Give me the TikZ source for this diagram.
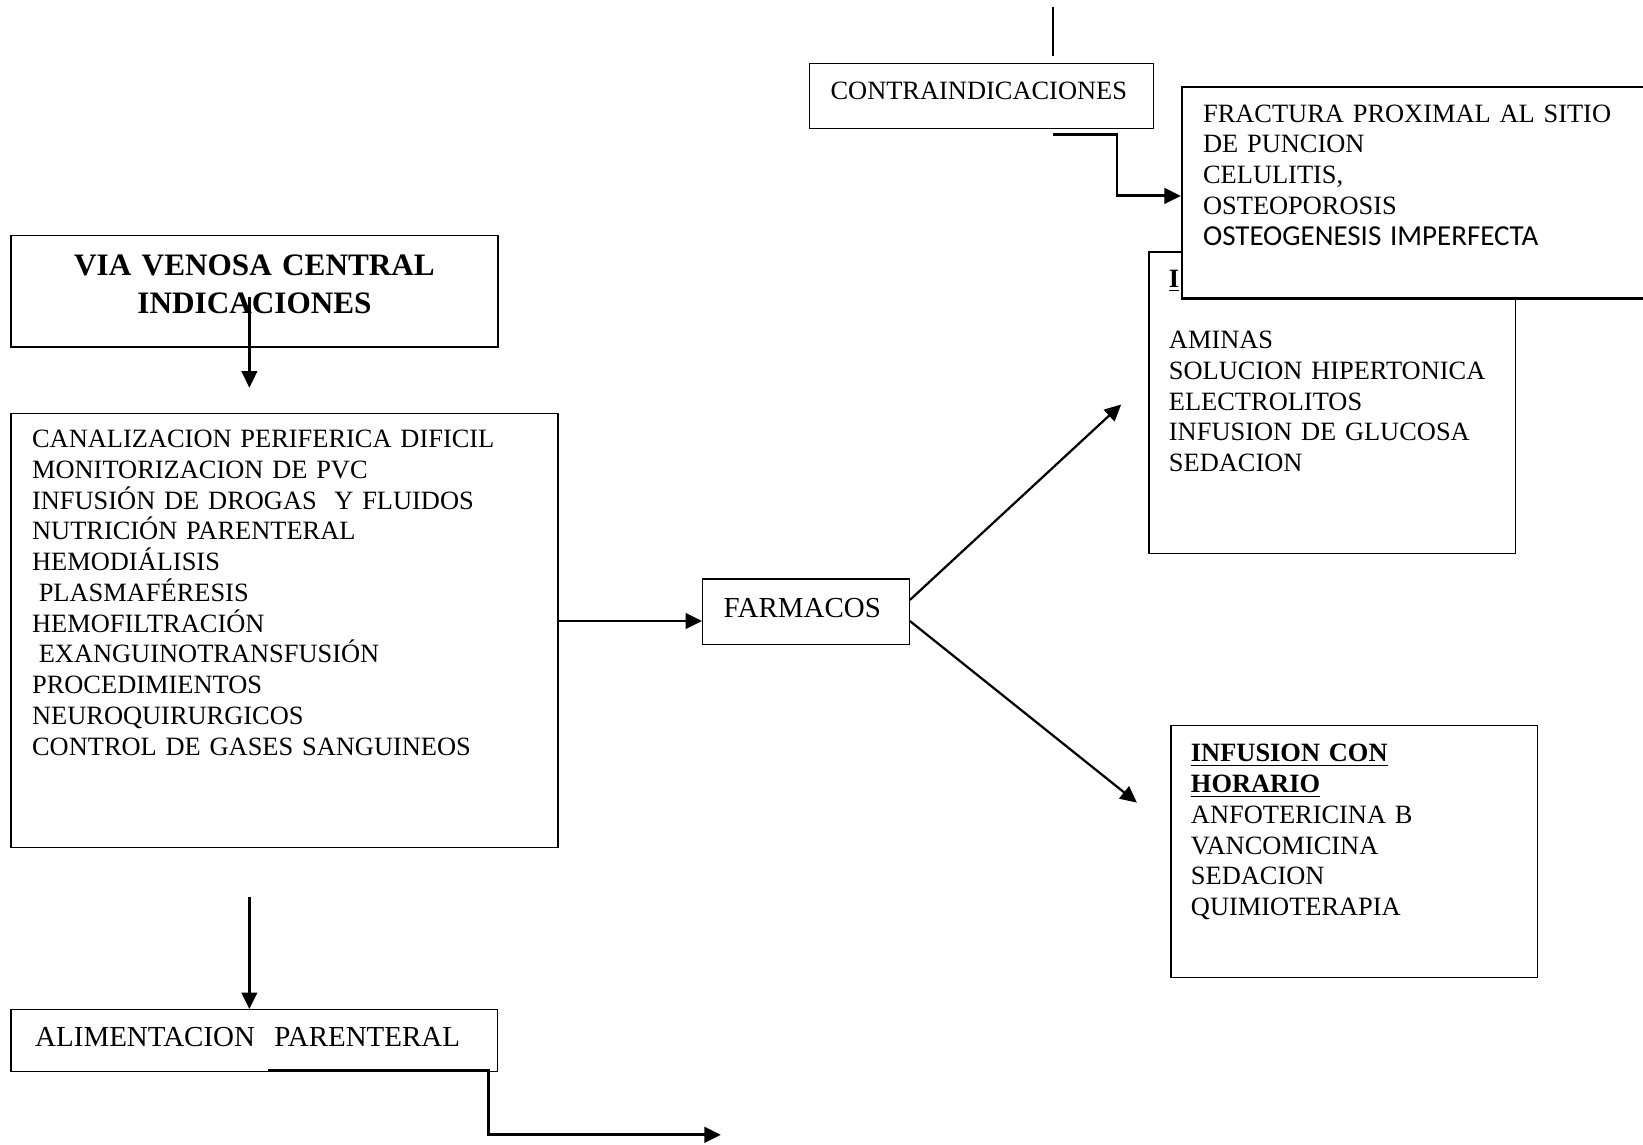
\documentclass[tikz,border=0pt]{standalone}
\usepackage{fontspec}
\setmainfont{Liberation Serif}
\newfontfamily\calibrifont{Carlito}
\usetikzlibrary{arrows.meta}

\begin{document}
\begin{tikzpicture}[x=0.47pt, y=-0.47pt,
                    line width=0.7pt,
                    font=\fontsize{11.85}{13.8}\selectfont,
                    ]
    \tikzstyle{box}=[draw, rectangle, anchor=north west, align=left, inner ysep=0pt, inner xsep=9.4pt, line width=0.6pt];
    \tikzstyle{titlebox}=[box, align=center, inner xsep=0pt, line width=0.8pt, font=\fontsize{14}{16.9}\selectfont\bfseries];
    \tikzstyle{bigword}=[box, font=\fontsize{13}{13.8}\selectfont];
    \tikzstyle{overbox}=[box, fill=white, line width=1.1pt];
    \tikzstyle{arr}=[draw, line width=1pt, -{Triangle[length=7.4pt,width=7pt]}];
    \tikzstyle{elbow}=[arr, line width=1.3pt];

    \useasboundingbox (0,0) rectangle (1568,1092);

    \node[titlebox, text width=218.1pt, text height=17.9pt, text depth=32pt] (venosa) at (10,224)
        {VIA VENOSA CENTRAL\\INDICACIONES};
    \node[box, text width=226.5pt, text height=15.3pt, text depth=179.3pt] (indic) at (10,394)
        {CANALIZACION PERIFERICA DIFICIL\\
         MONITORIZACION DE PVC\\
         INFUSIÓN DE DROGAS~ Y FLUIDOS\\
         NUTRICIÓN PARENTERAL\\
         HEMODIÁLISIS\\
         \hspace*{3pt}PLASMAFÉRESIS\\
         HEMOFILTRACIÓN\\
         \hspace*{3pt}EXANGUINOTRANSFUSIÓN\\
         PROCEDIMIENTOS\\
         NEUROQUIRURGICOS\\
         CONTROL DE GASES SANGUINEOS};
    \node[bigword, text width=196.5pt, inner xsep=10.8pt, text height=16.7pt, text depth=11pt] (alim) at (10,963)
        {ALIMENTACION~ PARENTERAL};
    \node[bigword, text width=73.8pt, text height=17.2pt, text depth=12pt] (farm) at (670,552)
        {FARMACOS};
    \node[box, text width=146.6pt, inner xsep=8.9pt, text height=15.7pt, text depth=119.6pt] (contin) at (1096,240)
        {\underline{\textbf{I}}\\
         \mbox{}\\
         AMINAS\\
         SOLUCION HIPERTONICA\\
         ELECTROLITOS\\
         INFUSION DE GLUCOSA\\
         SEDACION};
    \node[box, text width=146.6pt, inner xsep=8.9pt, text height=16.2pt, text depth=96.6pt] (horario) at (1117,692)
        {\underline{\textbf{INFUSION CON}}\\
         \underline{\textbf{HORARIO}}\\
         ANFOTERICINA B\\
         VANCOMICINA\\
         SEDACION\\
         QUIMIOTERAPIA};
    \node[box, text width=135.4pt, text height=16.2pt, text depth=12.9pt] (contra) at (772,60)
        {CONTRAINDICACIONES};
    \node[overbox, text width=197.4pt, text height=15.7pt, text depth=79.2pt] (frac) at (1127,82)
        {FRACTURA PROXIMAL AL SITIO\\
         DE PUNCION\\
         CELULITIS,\\
         OSTEOPOROSIS\\
         {\calibrifont\fontsize{13}{13.8}\selectfont OSTEOGENESIS IMPERFECTA}};

    \coordinate (down1s) at (238,283);
    \coordinate (down1e) at (238,370);
    \coordinate (farmin) at ([yshift=-4.2pt]farm.west);
    \coordinate (rise) at ([yshift=5.2pt]farm.east);
    \coordinate (risetip) at (1070,386);
    \coordinate (fall) at ([yshift=-4.2pt]farm.east);
    \coordinate (falltip) at (1085,766);
    \coordinate (topin) at (1005,7);
    \coordinate (topend) at (1005,53);
    \coordinate (ci1) at (1005,128);
    \coordinate (ci2) at (1066,187);
    \coordinate (down2s) at (238,856);
    \coordinate (al1) at (256,1022);
    \coordinate (al2) at (466,1083);
    \coordinate (altip) at (688,1083);

    \path[draw,arr] (down1s) -- (down1e);
    \path[draw,arr] (indic.east |- farmin) -- (farmin);
    \path[draw,arr] (rise) -- (risetip);
    \path[draw,arr] (fall) -- (falltip);
    \path[draw,line width=0.9pt] (topin) -- (topend);
    \path[draw,elbow] (ci1) -| (ci2) -- (frac.west |- ci2);
    \path[draw,arr] (down2s) -- (down2s |- alim.north);
    \path[draw,elbow] (al1) -| (al2) -- (altip);
\end{tikzpicture}
\end{document}
